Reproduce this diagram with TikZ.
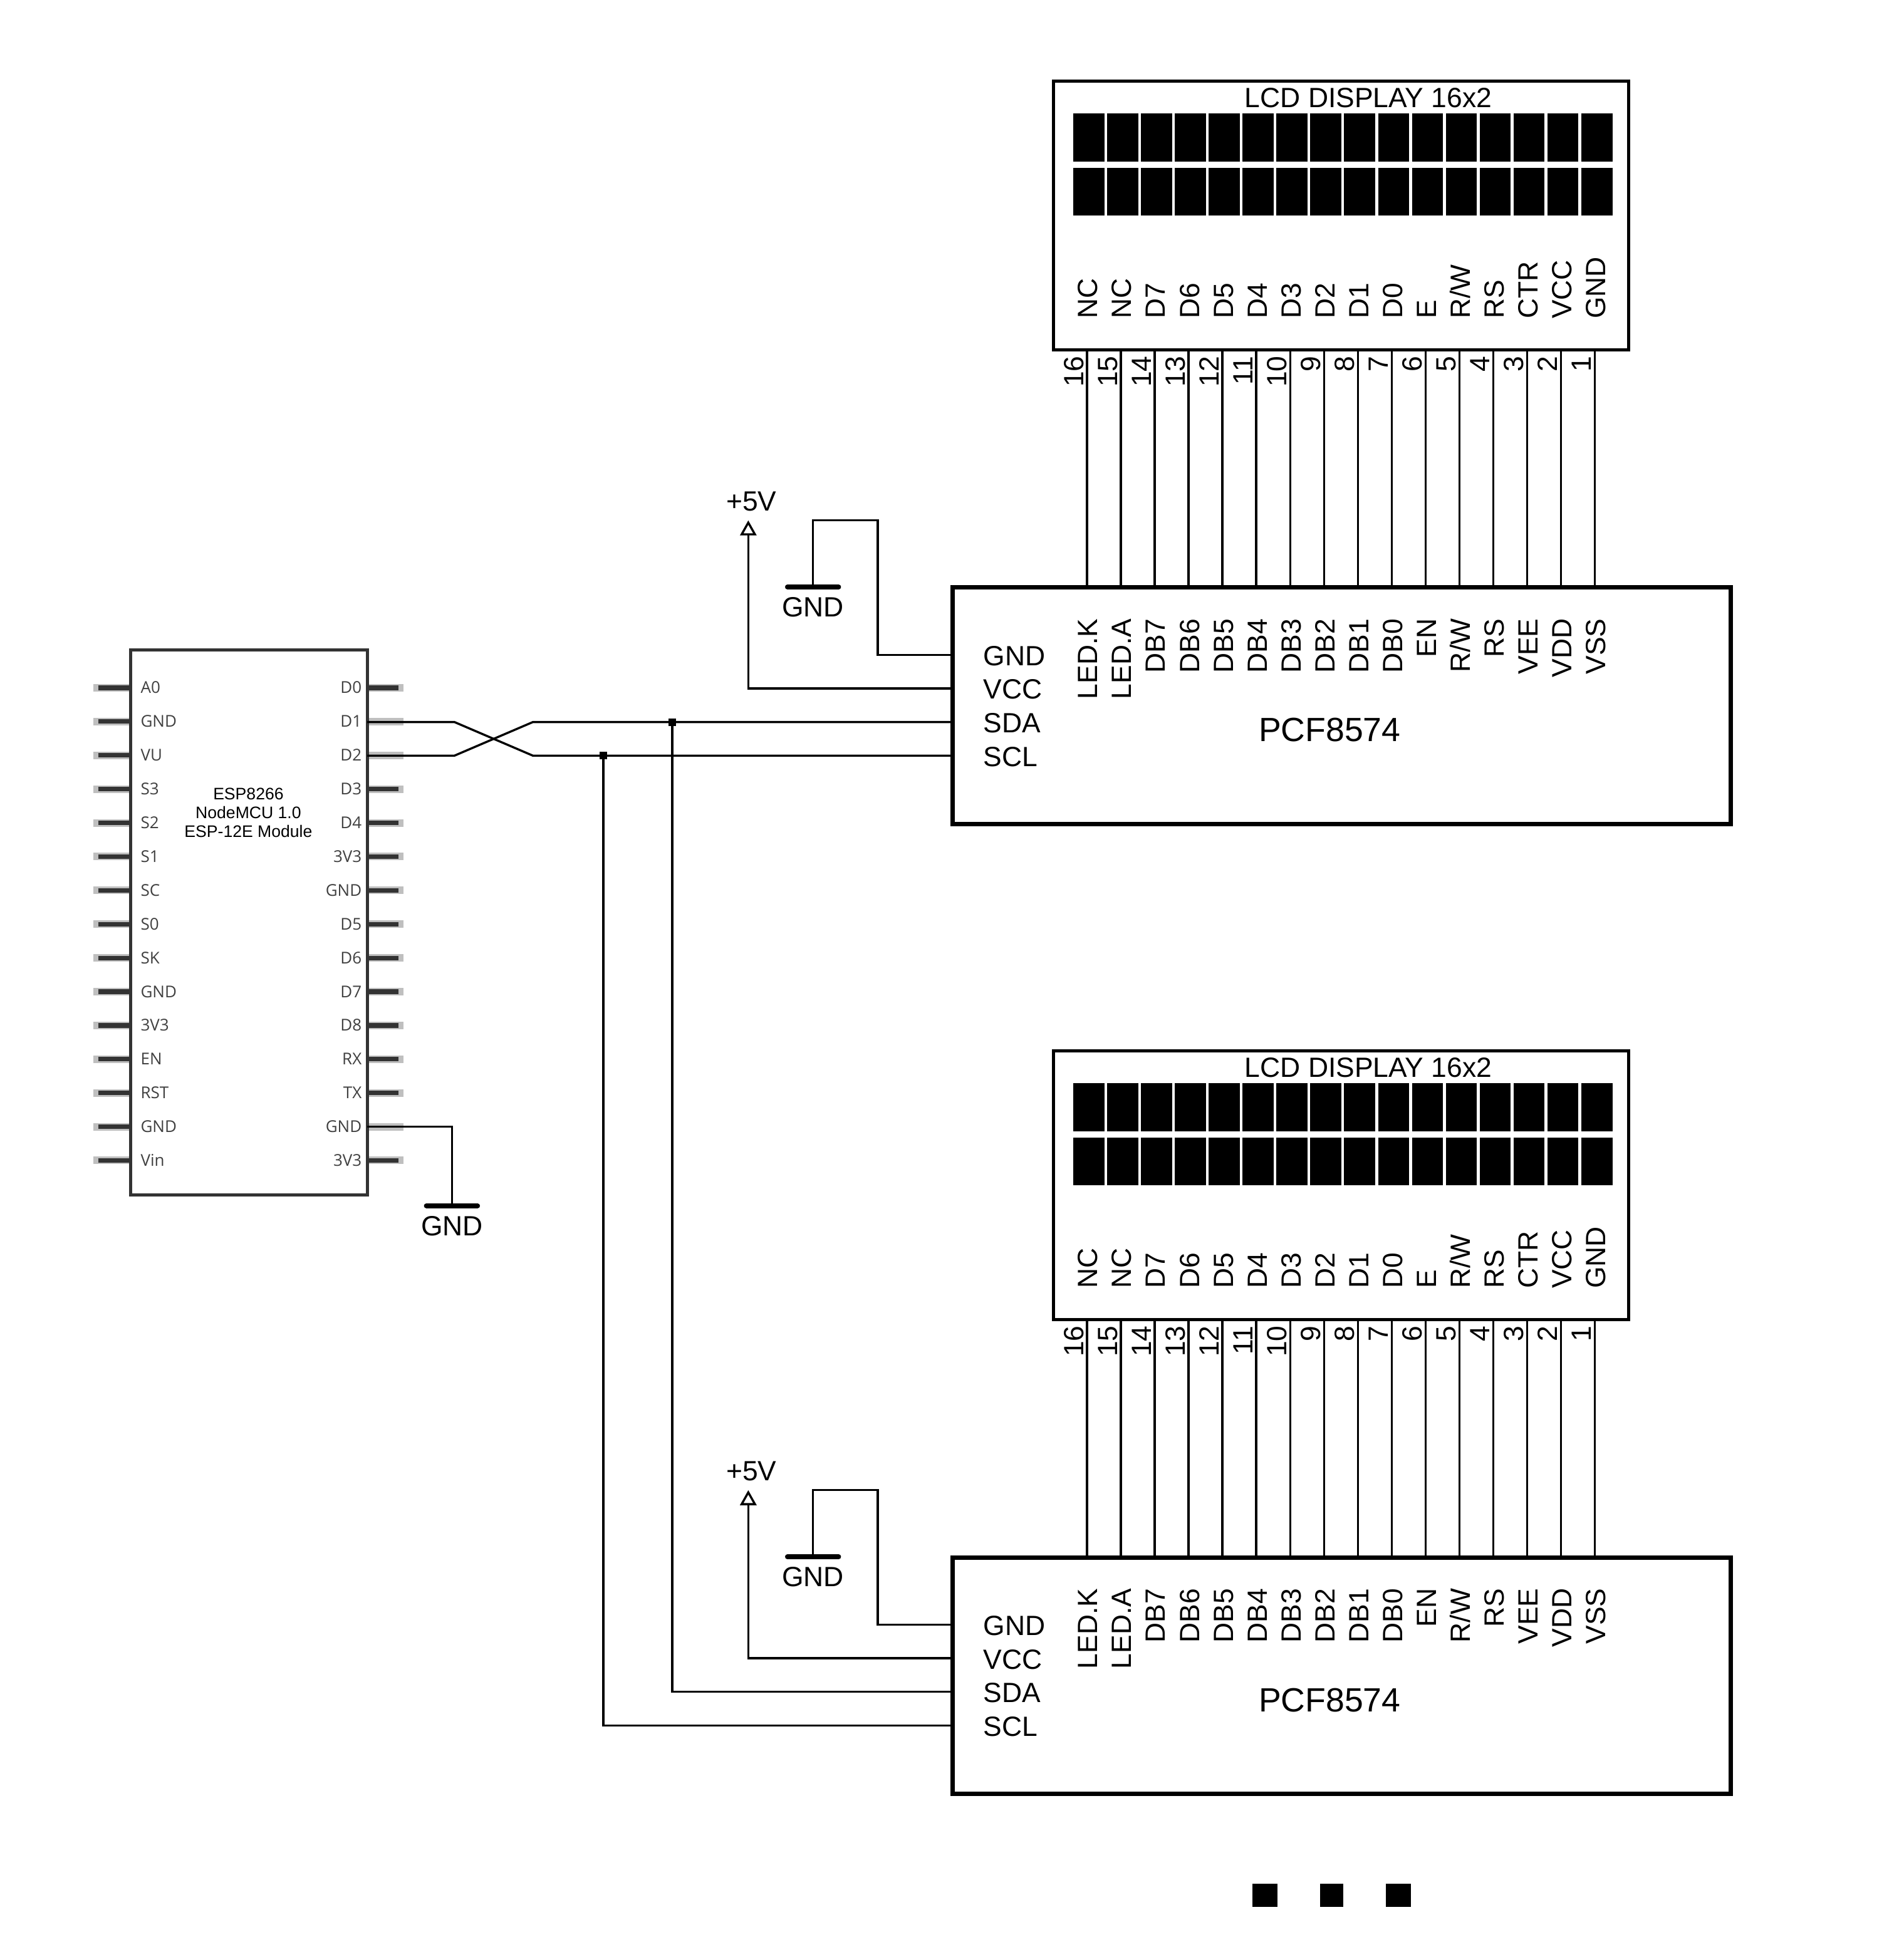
\documentclass[tikz,border=0pt]{standalone}
\usepackage{fontspec}
\setmainfont{Liberation Sans}
\newfontfamily\pinfont{Open Sans}
\usetikzlibrary{arrows.meta,calc}
\newcommand{\U}{0.49673pt}
\tikzset{
  x=\U,y=-\U,
  every node/.style={inner sep=0pt,outer sep=0pt,font=\fontsize{11.1}{13}\selectfont,text height=8pt,text depth=0pt},
  wire/.style={line width=0.85pt,line join=miter},
  lcdbox/.style={draw,line width=1.2pt,rectangle,minimum width=462*\U,minimum height=216*\U},
  pcfbox/.style={draw,line width=1.75pt,rectangle,minimum width=625*\U,minimum height=190*\U},
  espbox/.style={draw=black!80,line width=1.25pt,rectangle,minimum width=190*\U,minimum height=438*\U},
  rottext/.style={rotate=90},
  gndbar/.style={line width=2pt,line cap=round},
  espstub/.style={line width=3pt,draw=black!25},
  espcore/.style={line width=1.8pt,draw=black!80},
  esplabel/.style={font=\pinfont\fontsize{6.5}{8}\selectfont,text=black!75,text height=5pt},
  esptitle/.style={font=\fontsize{6.65}{7.5}\selectfont,align=center,text height={},text depth={}},
  junction/.style={rectangle,fill=black,text height={},text depth={},minimum width=6*\U,minimum height=6*\U},
  supply/.style={wire,-{Triangle[open,length=6pt,width=6.5pt,line width=0.85pt]}},
}
\newcommand{\lcdgroup}[2]{%
  \begin{scope}[shift={(0,#2)}]
    \node[lcdbox] (lcd#1) at (1077,173) {};
    \node (lcdtitle#1) at (1099,78) {LCD DISPLAY 16x2};
    \foreach \i in {0,...,15}{
      \fill ({862+27.2*\i},91) rectangle ++(25,39);
      \fill ({862+27.2*\i},135) rectangle ++(25,38);
    }
    \node[pcfbox] (pcf#1) at (1077.5,567) {};
    \node[font=\fontsize{13.4}{15}\selectfont,text height=9.7pt] (pcfname#1) at (1068,586) {PCF8574};
    \foreach \t [count=\i from 0] in {NC,NC,D7,D6,D5,D4,D3,D2,D1,D0,E,R/W,RS,CTR,VCC,GND}{
      \node[rottext,anchor=west] (lcdl#1\i) at ({873.5+27.2*\i},256) {\t};
    }
    \foreach \t [count=\i from 0] in {16,15,14,13,12,11,10,9,8,7,6,5,4,3,2,1}{
      \node[rottext,anchor=east] (lcdn#1\i) at ({862+27.2*\i},286) {\t};
      \coordinate (lp#1\i) at ({873+27.2*\i},281);
      \coordinate (pp#1\i) at ({873+27.2*\i},472);
      \draw[wire] (lp#1\i) -- (pp#1\i);
    }
    \foreach \t [count=\i from 0] in {LED.K,LED.A,DB7,DB6,DB5,DB4,DB3,DB2,DB1,DB0,EN,R/W,RS,VEE,VDD,VSS}{
      \node[rottext,anchor=east] (pcfl#1\i) at ({873.5+27.2*\i},497) {\t};
    }
    \node[anchor=west] (lg#1) at (790,526.5) {GND};
    \node[anchor=west] (lv#1) at (790,553.5) {VCC};
    \node[anchor=west] (lsda#1) at (790,580.5) {SDA};
    \node[anchor=west] (lscl#1) at (790,607.5) {SCL};
    \coordinate (pg#1) at (765,526);
    \coordinate (pv#1) at (765,553);
    \coordinate (psda#1) at (765,580);
    \coordinate (pscl#1) at (765,607);
    \coordinate (gndpt#1) at (653,471.5);
    \draw[gndbar] (632.5,471.5) -- (673.5,471.5);
    \node (gndl#1) at (653,487.5) {GND};
    \draw[wire] (pg#1) -- (705,526) -- (705,418) -- (653,418) -- (gndpt#1);
    \coordinate (vtip#1) at (601,418);
    \draw[supply] (pv#1) -- (601,553) -- (vtip#1);
    \node (vl#1) at (603.5,402.5) {+5V};
  \end{scope}
}
\begin{document}
\begin{tikzpicture}
\useasboundingbox (0,0) rectangle (1529,1568);
\lcdgroup{A}{0}
\lcdgroup{B}{779}
% ESP module
\foreach \i in {0,...,14}{
  \draw[espstub] (75,{552.5+27.12*\i}) -- (105,{552.5+27.12*\i});
  \draw[espstub] (295,{552.5+27.12*\i}) -- (324,{552.5+27.12*\i});
  \draw[espcore] (79,{552.5+27.12*\i}) -- (105,{552.5+27.12*\i});
  \ifnum\i=1\else\ifnum\i=2\else\ifnum\i=13\else
    \draw[espcore] (295,{552.5+27.12*\i}) -- (320,{552.5+27.12*\i});
  \fi\fi\fi
}
\node[espbox] (esp) at (200,741) {};
\foreach \t [count=\i from 0] in {A0,GND,VU,S3,S2,S1,SC,S0,SK,GND,3V3,EN,RST,GND,Vin}{
  \node[esplabel,anchor=west] (el\i) at (113,{552+27.12*\i}) {\t};
}
\foreach \t [count=\i from 0] in {D0,D1,D2,D3,D4,3V3,GND,D5,D6,D7,D8,RX,TX,GND,3V3}{
  \node[esplabel,anchor=east] (er\i) at (290.5,{552+27.12*\i}) {\t};
}
\node[esptitle] (esptitle) at (199.5,653) {ESP8266\\NodeMCU 1.0\\ESP-12E Module};
% bus
\coordinate (d1) at (295,580);
\coordinate (d2) at (295,607);
\coordinate (g1) at (295,905);
\draw[wire] (d1) -- (365,580) -- (428,607) -- (psclA);
\draw[wire] (d2) -- (365,607) -- (428,580) -- (psdaA);
\node[junction] (jsda) at (540,580) {};
\node[junction] (jscl) at (484.5,607) {};
\draw[wire] (jsda) |- (psdaB);
\draw[wire] (jscl) |- (psclB);
% ESP ground
\coordinate (gndesp) at (363,968.5);
\draw[wire] (g1) -- (363,905) -- (gndesp);
\draw[gndbar] (342.5,968.5) -- (383.5,968.5);
\node (gndlesp) at (363,984.5) {GND};
% ellipsis squares
\fill (1006,1513) rectangle (1026,1532);
\fill (1060,1513) rectangle (1079,1532);
\fill (1113,1513) rectangle (1133,1532);
\end{tikzpicture}
\end{document}
